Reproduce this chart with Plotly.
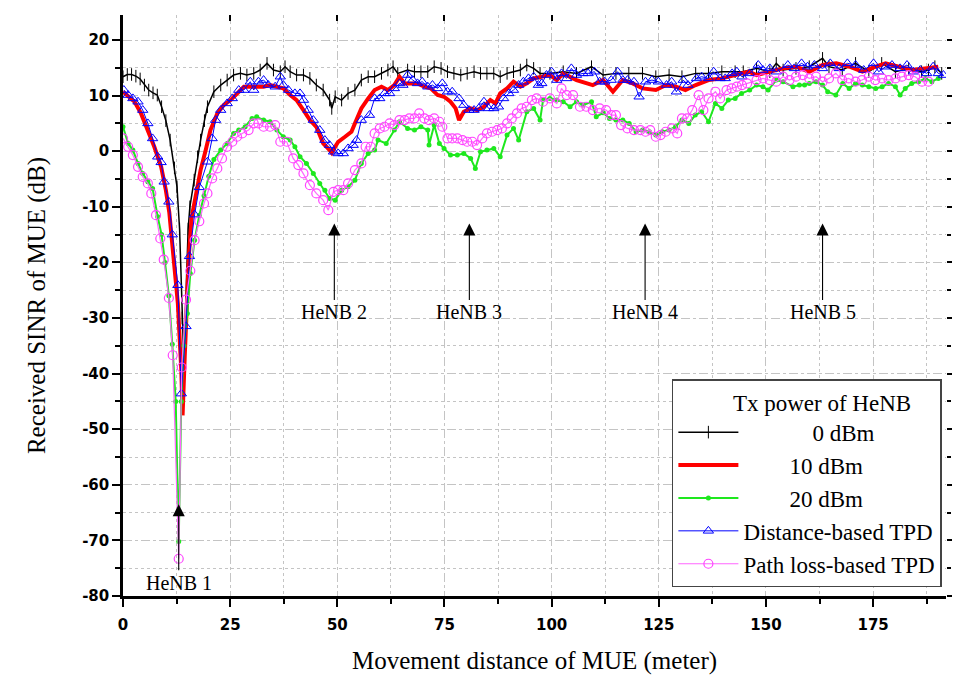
import plotly.graph_objects as go

# ---------------- data ----------------
x_0dbm = [0, 1, 2, 3, 4, 5, 6, 7, 8, 9, 10, 11, 12, 12.6, 13.2, 13.8, 14.2, 14.6, 15.2, 15.6, 16.6, 17.4, 18.1, 19, 19.7,
          21.2, 22.8, 24.3, 25.8, 27.4, 28.9, 30.5, 32, 33.6, 35.1, 36.7, 37.8, 39, 40.5, 42.1, 43.6, 45.1, 46.7, 48.2,
          48.7, 49.5, 51, 52.5, 54.1, 55.6, 57.2, 58.7, 60.3, 61.8, 63, 64.1, 66.4, 68, 69.5, 71.1, 72.6, 74.2, 75.7,
          77.2, 78.8, 80.3, 81.9, 83.4, 84.9, 86.5, 88, 89.6, 91.1, 92.7, 94.2, 95.8, 97.3, 99.6, 102.7, 105.8, 109.3,
          112, 115, 118, 121.2, 124.3, 127.4, 130.4, 133.6, 136.6, 139.7, 142.8, 144.7, 147.8, 150.9, 152.4, 154, 157,
          160.1, 163.2, 164.7, 167.8, 170.9, 174, 177, 180.2, 183.3, 186.3, 187.9, 189.4, 191]
y_0dbm = [13.4, 13.8, 13.8, 13.5, 13, 11.9, 11, 10.5, 10.1, 8, 5.5, 2, -3, -6.4, -14, -30, -38, -28, -14, -10, -5.2, -1, 2,
          5.5, 8, 10.7, 11.9, 12.8, 13.7, 14, 13.7, 14, 14.6, 15.8, 14.6, 14.3, 15.2, 14.3, 13.7, 13.7, 13.1, 11.9, 11,
          9.2, 7.7, 9.8, 9.2, 10.4, 11, 12.8, 13.4, 13.4, 14, 14.6, 15.2, 14, 14.6, 14.3, 14.3, 14.3, 15.2, 14.9, 14.3,
          14, 13.7, 14, 14.3, 14, 14, 14, 13.4, 14, 14.3, 14.6, 15.5, 14.9, 14, 14, 14.3, 14, 15.2, 13.7, 14, 14, 14,
          13.4, 13.7, 13.4, 14, 14, 14.3, 14.3, 14.3, 14.9, 14.3, 15.8, 14.6, 14.9, 15.2, 16.7, 15.2, 14.6, 15.8, 14.3,
          15.8, 14.3, 14.9, 14.3, 14.6, 15.2, 14]

x_10dbm = [0, 1.2, 2.7, 4.2, 5.8, 7.3, 8.9, 10, 10.8, 11.6, 12.8, 13.6, 13.9, 14.4, 14.8, 15.4, 16, 17, 18.1, 19.3, 20.4,
           22, 23.5, 25.1, 26.6, 28.2, 29.7, 31.2, 32.8, 34.3, 35.9, 37.4, 39, 40.5, 42.1, 43.6, 45.1, 46.7, 48.2, 48.7,
           49.5, 50.2, 51.8, 53.3, 54.1, 55.6, 57.2, 58.7, 60.3, 61.8, 63.3, 64.5, 65.7, 67.2, 68.7, 70.3, 71.8, 73.4,
           74.9, 76.4, 77.6, 78.4, 79.5, 81.1, 82.6, 84.2, 85.7, 86.9, 88, 89.6, 91.1, 92.7, 94.2, 95.8, 97.3, 99.6,
           101.2, 102.7, 105.8, 109.6, 112, 114.3, 116.6, 118.9, 121.2, 124.3, 126.7, 129, 131.2, 133.6, 136.6, 139.7,
           142.8, 146, 147.8, 150.9, 154, 157, 160.1, 163.2, 166.4, 169.5, 172.5, 175.6, 177.9, 181, 184.1, 187.1, 190.2]
y_10dbm = [10.7, 9.8, 8.9, 6.8, 3.8, 0.8, -2.8, -7, -11, -18.4, -27.4, -39.4, -47.5, -37, -27.4, -18.4, -12, -7.6, -3.4,
           0.2, 3.8, 6.8, 8.3, 9.2, 10.4, 11.6, 11.6, 11.6, 11.6, 11.9, 11.6, 11.3, 10.1, 9.2, 7.4, 5.6, 4.4, 1.4, 0.2,
           -0.3, 0.8, 1.7, 2.6, 3.5, 5, 7.7, 9.5, 11, 11.6, 11, 11.9, 13.4, 12.2, 12.2, 12.2, 11.6, 11.3, 10.1, 9.8, 8.9,
           7.7, 5.6, 7.1, 7.7, 7.4, 8, 9.2, 8.6, 10.4, 11.3, 12.5, 11.6, 12.2, 13.1, 13.4, 13.7, 12.8, 14, 12.8, 11.9,
           12.8, 10.7, 12.8, 12.2, 11.3, 11, 11.9, 11.6, 11, 11.9, 12.8, 13.1, 13.7, 14.3, 13.7, 14.3, 14.9, 15.2, 14.3,
           15.5, 15.8, 15.2, 14.3, 15.2, 15.8, 15.2, 14.6, 14.9, 15.2]

x_20dbm = [0, 1.2, 2.3, 3.5, 4.6, 5.8, 6.9, 8.1, 9, 9.8, 10.7, 11.5, 12.3, 13, 13.6, 14.2, 15, 15.7, 16.7, 17.8, 18.9, 20,
           21.2, 22.8, 24.3, 25.8, 27, 28.5, 30.1, 31.2, 32.8, 34.3, 35.9, 37.4, 39, 40.1, 41.3, 42.8, 44.4, 45.9, 47.1,
           48.2, 49.5, 51, 52.5, 54.1, 55.6, 57.2, 58.7, 59.5, 61.4, 63.3, 64.5, 66.4, 68, 69.5, 71.1, 71.4, 72.6, 73.8,
           74.9, 76.4, 78, 79.5, 81.1, 82.2, 83.4, 84.9, 86.5, 88, 89.6, 91.1, 92.3, 94.2, 95.8, 97.3, 98, 99.6, 101.2,
           102.7, 104.3, 105.8, 107.3, 109.3, 110.4, 112, 113.5, 115, 116.6, 118.1, 119.7, 121.2, 122.8, 124.3, 125.8,
           127.4, 128.9, 130.4, 132, 133.5, 135, 136.6, 138.2, 139.7, 141.2, 142.8, 144.3, 146.2, 147.8, 149.3, 150.5,
           152.4, 154, 156.3, 157.8, 159, 160.1, 161.7, 163.2, 164.4, 166.3, 167.9, 169.4, 170.9, 172.5, 174, 175.6,
           177.1, 178.6, 180.2, 181.3, 182.5, 184, 185.6, 187.2, 188.7, 190.2]
y_20dbm = [4.4, 1.4, 0.2, -2.2, -4, -5.5, -6.7, -11.8, -15, -20, -26, -34.7, -45, -70.2, -45, -35, -29.2, -22, -16, -11.5,
           -8, -4.5, -1.5, 0.2, 1.4, 3.2, 3.8, 4.4, 5.9, 6.2, 5.6, 5.3, 3.8, 2.6, 2, 0.8, -1, -2.2, -4, -5.8, -7, -8.5,
           -8.8, -7, -6.4, -5.2, -2.2, -0.4, 0.2, 2, 1.4, 3.8, 5.3, 4.1, 3.8, 4.4, 3.8, 1.1, 4.7, 1.4, 0.5, -0.7, -0.7,
           -0.4, -1.3, -3.1, -0.1, 0.2, 0.5, -1, 2.9, 4.1, 2, 7.1, 7.7, 5.6, 9.2, 9.5, 9.2, 8.9, 8, 8.9, 8.3, 8.9, 6.2,
           6.9, 5.9, 5.6, 5.6, 5, 3.5, 3.8, 3.5, 2.9, 3.5, 3.8, 4.4, 5.6, 5, 6.5, 7.1, 5.3, 8.6, 7.7, 9.2, 9.5, 10.4, 11,
           11.9, 11.6, 11, 12.8, 12.5, 11.6, 11.9, 11.9, 12.2, 12.5, 11.9, 10.7, 10.1, 12.2, 11.3, 12.2, 11.9, 11.6,
           11.3, 11.6, 12.2, 11.6, 10.1, 11.3, 12.2, 12.5, 13.1, 12.5, 13.1]

x_dist = [0.2, 1.2, 2.3, 3.5, 4.6, 5.8, 6.9, 8.1, 8.9, 9.6, 10.7, 11.5, 12.8, 13.6, 14.7, 15.5, 16.7, 17.8, 19.7, 20.8,
          21.6, 22.8, 24.3, 25.5, 27, 28.2, 29.7, 30.5, 31.6, 32.8, 33.9, 35.5, 36.7, 37.4, 38.6, 40.1, 41.3, 42.1, 43.2,
          44.4, 45.9, 47.1, 48.2, 49.1, 50.2, 51.4, 52.5, 53.7, 54.5, 55.6, 57.5, 58.7, 59.9, 61, 62.2, 63.3, 64.5,
          65.3, 66.4, 67.6, 68.7, 69.8, 71.1, 72.2, 73.4, 74.5, 75.7, 76.8, 78.4, 79.5, 80.7, 81.9, 83, 84.2, 85.3,
          86.5, 87.6, 88.8, 90, 91.1, 92.3, 93.4, 94.6, 95.8, 96.9, 97.7, 98.8, 100, 101.2, 102.3, 103.5, 104.6, 105.8,
          107.3, 108.5, 110, 111.2, 112.4, 113.9, 115.4, 116.6, 117.7, 119.2, 120.4, 121.9, 123.4, 124.9, 126.8, 128,
          129.1, 130.7, 131.8, 133.8, 135, 136.6, 137.8, 139.3, 140.5, 142.1, 143.2, 144.4, 146.2, 148.2, 149.3, 150.9,
          152.4, 155.1, 156.6, 158.3, 159.7, 161.3, 163.2, 165, 167.1, 169, 170.9, 172.8, 175.1, 176.3, 177.9, 179.4,
          181.3, 182.9, 184.4, 186, 187.5, 189, 190.2, 191.4]
y_dist = [11, 10.1, 9.5, 8.9, 7.4, 5, 2.3, -1, -2, -5.5, -9.1, -15, -24.1, -43.6, -31.5, -18.9, -11.4, -6.5, -1.9, 2.3,
          5.6, 7.4, 8.6, 9.5, 11, 11, 12.5, 11, 12.5, 12.8, 11.9, 11.6, 13.4, 11.9, 11, 10.4, 10.4, 9.2, 7.4, 5.6, 3.8,
          2, 1.1, -0.1, -0.4, -0.4, 0.5, 1.1, 2, 5.6, 6.5, 9.5, 9.5, 10.4, 10.4, 11.3, 12.2, 11.9, 13.7, 12.8, 12.2,
          12.5, 11.6, 11.9, 11.3, 12.2, 10.7, 10.7, 9.5, 8.3, 7.4, 7.4, 7.7, 8.9, 7.7, 7.7, 8, 9.5, 10.4, 11, 11.9,
          12.5, 13.1, 13.4, 11.9, 12.2, 13.7, 14.3, 12.8, 14, 13.1, 14.9, 13.7, 14, 14, 14.3, 12.5, 12.5, 12.8, 14.3,
          12.8, 12.8, 12.5, 9.8, 12.5, 12.8, 12.5, 11.9, 12.5, 10.7, 12.8, 11.9, 13.1, 13.4, 13.1, 14.3, 13.1, 13.1,
          14, 14.3, 13.4, 14, 15.5, 14.6, 14.9, 14.3, 15.5, 14.9, 15.8, 15.2, 15.5, 14.9, 15.8, 14.9, 15.8, 15.5, 14.6,
          15.8, 14.3, 15.2, 15.5, 14.9, 15.5, 14.3, 14.6, 14, 15.2, 14, 13.7]

x_pl = [0, 1.2, 2.3, 3.5, 4.6, 5.8, 6.6, 7.7, 8.7, 9.5, 10.7, 11.6, 13, 13.7, 14.7, 15.7, 16.7, 17.8, 18.9, 19.7, 20.8,
        22, 23.1, 24.3, 25.5, 26.6, 27.8, 29.3, 30.5, 31.6, 32.8, 34.3, 35.5, 36.7, 38.2, 39.7, 40.9, 42.1, 43.6, 45.1,
        46.7, 47.9, 49.1, 50.2, 51.4, 52.5, 54.1, 55.6, 56.6, 57.8, 58.7, 59.9, 61, 62.2, 63.3, 64.5, 65.7, 66.8, 68,
        69.1, 70.3, 71.4, 72.6, 73.8, 74.5, 75.7, 76.8, 78, 79.2, 80.3, 81.5, 82.6, 83.8, 84.9, 86.1, 87.3, 88.4, 89.6,
        90.7, 91.9, 93, 94.2, 95.4, 96.5, 98, 99.6, 101.2, 102.3, 103.5, 105, 106.6, 108.1, 109.6, 111.2, 112.7, 113.9,
        115, 116.2, 117.7, 119.2, 120.7, 121.9, 123, 124.3, 125.4, 126.6, 128.1, 129.3, 130.4, 131.6, 132.8, 134.3,
        135.4, 136.6, 138.2, 139.3, 140.8, 142, 143.2, 144.4, 145.6, 147.8, 149.3, 150.9, 152.4, 154, 155.5, 157,
        158.6, 160.1, 161.7, 163.2, 164.7, 166.3, 167.8, 169.3, 170.9, 172.4, 174, 175.5, 177.1, 178.6, 180.2, 181.7,
        183.3, 184.8, 186.4, 187.9]
y_pl = [2.3, 0.8, -0.7, -2.8, -4.6, -5.8, -7.6, -11.5, -15.7, -19.5, -26.4, -36.7, -73.3, -38.9, -26.7, -21.5, -16,
        -12.6, -9.4, -7.6, -4.9, -3.1, -1.3, 0.8, 1.7, 2.6, 3.2, 3.8, 5, 5, 4.4, 4.4, 4.7, 1.7, 1.7, -1.3, -2.5, -4,
        -6.1, -7.6, -8.8, -10.6, -7.3, -7, -7, -5.8, -3.4, -2.2, 0.8, 0.8, 3.2, 4.1, 4.4, 5, 4.7, 5.6, 5.6, 5.9, 5.9,
        6.8, 5.9, 5.6, 5.9, 5.3, 4.4, 2.3, 2.3, 2.3, 2, 1.7, 1.7, 1.1, 2.3, 3.2, 3.5, 3.8, 4.1, 5, 5.9, 6.8, 7.7, 8,
        9.2, 9.5, 8.9, 9.5, 8.6, 11.3, 10.1, 10.1, 8, 8, 7.4, 7.7, 7.4, 6.5, 6.5, 4.7, 4.1, 3.8, 3.8, 3.5, 3.8, 2.6,
        2.9, 3.5, 4.1, 3.2, 5.9, 5.9, 7.4, 10.1, 7.4, 9.5, 10.7, 9.5, 11, 11.3, 11.6, 11.9, 12.2, 12.8, 13.1, 12.8,
        12.5, 13.4, 12.8, 13.4, 13.7, 13.1, 13.4, 12.5, 13.1, 14, 12.8, 13.1, 12.5, 12.8, 13.4, 12.8, 13.1, 12.8, 13.1,
        13.4, 13.7, 13.4, 12.5, 12.5]

series_names = ["0 dBm", "10 dBm", "20 dBm", "Distance-based TPD", "Path loss-based TPD"]
legend_title = "Tx power of HeNB"

henb_labels = ["HeNB 1", "HeNB 2", "HeNB 3", "HeNB 4", "HeNB 5"]
henb_x = [13.0, 49.3, 80.8, 121.8, 163.2]
henb_tip_y = [-63.5, -13, -13, -13, -13]
henb_text_y = [-77.6, -29, -29, -29, -29]

x_tick_vals = [0, 25, 50, 75, 100, 125, 150, 175]
x_tick_text = ["0", "25", "50", "75", "100", "125", "150", "175"]
y_tick_vals = [-80, -70, -60, -50, -40, -30, -20, -10, 0, 10, 20]
y_tick_text = ["-80", "-70", "-60", "-50", "-40", "-30", "-20", "-10", "0", "10", "20"]

# ---------------- figure ----------------
SERIF = "Liberation Serif, Times New Roman, serif"
SANS = "DejaVu Sans, Arial, sans-serif"
NB = "\u00a0"

fig = go.Figure()
fig.add_trace(go.Scatter(x=x_0dbm, y=y_0dbm, mode="lines+markers", name=NB * 12 + series_names[0],
                         line=dict(color="black", width=1.5),
                         marker=dict(symbol="line-ns", size=9, line=dict(color="black", width=1))))
fig.add_trace(go.Scatter(x=x_10dbm, y=y_10dbm, mode="lines", name=NB * 8 + series_names[1],
                         line=dict(color="#ff0000", width=4)))
fig.add_trace(go.Scatter(x=x_20dbm, y=y_20dbm, mode="lines+markers", name=NB * 8 + series_names[2],
                         line=dict(color="#1ee81e", width=2),
                         marker=dict(symbol="circle", size=5, color="#1ee81e")))
fig.add_trace(go.Scatter(x=x_dist, y=y_dist, mode="lines+markers", name=series_names[3],
                         line=dict(color="#0000ff", width=1),
                         marker=dict(symbol="triangle-up-open", size=9, color="#0000ff", line=dict(width=1))))
fig.add_trace(go.Scatter(x=x_pl, y=y_pl, mode="lines+markers", name=series_names[4],
                         line=dict(color="#ff66ff", width=1.2),
                         marker=dict(symbol="circle-open", size=9, color="#ff44ff", line=dict(width=1.2))))

for lab, hx, ty, tx in zip(henb_labels, henb_x, henb_tip_y, henb_text_y):
    fig.add_annotation(x=hx, y=ty, ax=hx, ay=tx, xref="x", yref="y", axref="x", ayref="y",
                       text=lab, showarrow=True, arrowhead=2, arrowsize=2.2, arrowwidth=1.1,
                       arrowcolor="black", standoff=0, startstandoff=0,
                       font=dict(family=SERIF, size=20, color="black"))

grid_c = "#c4c4c4"
fig.update_layout(
    width=952, height=673,
    margin=dict(l=115, r=8, t=7, b=85),
    paper_bgcolor="white", plot_bgcolor="white",
    showlegend=True,
    legend=dict(x=0.995, y=0.015, xanchor="right", yanchor="bottom",
                bgcolor="white", bordercolor="#444444", borderwidth=1.5,
                font=dict(family=SERIF, size=23, color="black"),
                title=dict(text=NB * 10 + legend_title, font=dict(family=SERIF, size=23, color="black")),
                itemwidth=60, tracegroupgap=0),
    xaxis=dict(range=[0, 192], tickmode="array", tickvals=x_tick_vals, ticktext=x_tick_text,
               showline=True, linecolor="black", linewidth=2.5,
               ticks="outside", ticklen=8, tickwidth=2, tickcolor="black",
               tickfont=dict(family=SANS, size=15, color="black", weight="bold"),
               ticklabelstandoff=5,
               showgrid=True, gridcolor=grid_c, griddash="dash", gridwidth=1,
               minor=dict(dtick=12.5, tick0=0, ticks="outside", ticklen=5, tickwidth=2, tickcolor="black",
                          showgrid=True, gridcolor=grid_c, griddash="dot"),
               zeroline=False, automargin=False,
               title=dict(text="Movement distance of MUE (meter)", standoff=19,
                          font=dict(family=SERIF, size=25, color="black"))),
    yaxis=dict(range=[-80, 24.5], tickmode="array", tickvals=y_tick_vals, ticktext=y_tick_text,
               showline=True, linecolor="black", linewidth=2.5,
               ticks="outside", ticklen=8, tickwidth=2, tickcolor="black",
               tickfont=dict(family=SANS, size=15, color="black", weight="bold"),
               showgrid=True, gridcolor=grid_c, griddash="dash", gridwidth=1,
               minor=dict(dtick=5, tick0=0, ticks="outside", ticklen=5, tickwidth=2, tickcolor="black",
                          showgrid=True, gridcolor=grid_c, griddash="dot"),
               zeroline=False, automargin=False,
               title=dict(text="Received SINR of MUE (dB)", standoff=30,
                          font=dict(family=SERIF, size=25, color="black"))),
    xaxis2=dict(range=[0, 192], overlaying="x", side="top", showline=False, showgrid=False,
                tickvals=x_tick_vals, ticks="inside", ticklen=6, tickwidth=2, tickcolor="black",
                showticklabels=False, zeroline=False),
    yaxis2=dict(range=[-80, 24.5], overlaying="y", side="right", showline=False, showgrid=False,
                tickvals=y_tick_vals, ticks="outside", ticklen=7, tickwidth=2, tickcolor="black",
                showticklabels=False, zeroline=False,
                minor=dict(dtick=5, tick0=0, ticks="outside", ticklen=4, tickwidth=2, tickcolor="black")),
)
fig.add_trace(go.Scatter(x=[None], y=[None], xaxis="x2", yaxis="y2", showlegend=False, hoverinfo="skip"))

fig.write_html("out.html")
